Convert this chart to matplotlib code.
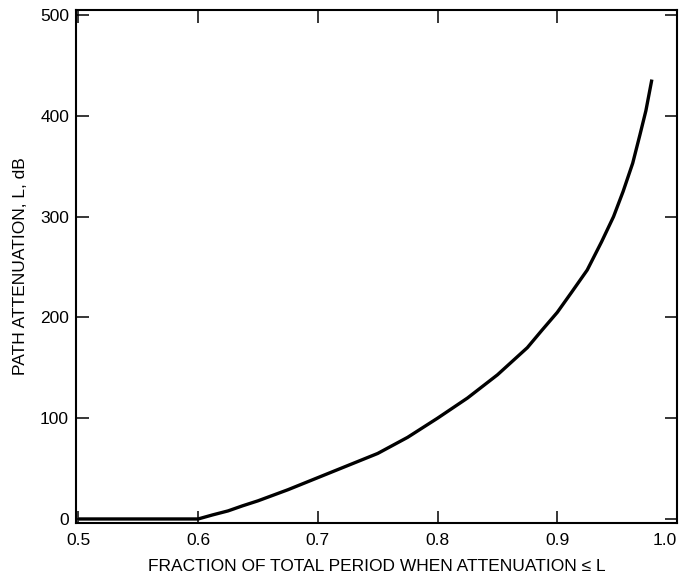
import matplotlib
matplotlib.use("Agg")
import matplotlib.pyplot as plt

# Data
fraction = [0.5, 0.6, 0.612, 0.625, 0.637, 0.65, 0.675, 0.7, 0.725, 0.75,
            0.775, 0.8, 0.825, 0.85, 0.875, 0.887, 0.9, 0.912, 0.925,
            0.937, 0.947, 0.955, 0.963, 0.969, 0.974, 0.979]
attenuation = [0, 0, 4, 8, 13, 18, 29, 41, 53, 65,
               81, 100, 120, 143, 170, 187, 205, 225, 247,
               275, 300, 325, 353, 381, 405, 436]

x_ticks = [0.5, 0.6, 0.7, 0.8, 0.9, 1.0]
x_tick_labels = ["0.5", "0.6", "0.7", "0.8", "0.9", "1.0"]
y_ticks = [0, 100, 200, 300, 400, 500]
y_tick_labels = ["0", "100", "200", "300", "400", "500"]

plt.rcParams['font.family'] = ['Liberation Sans', 'DejaVu Sans']

fig = plt.figure(figsize=(6.81, 5.80), dpi=100)
ax = fig.add_axes([76/681, 1-523/580, (677-76)/681, (523-10)/580])

ax.plot(fraction, attenuation, color='black', lw=2.4,
        solid_capstyle='butt', solid_joinstyle='round')

ax.set_xlim(0.498, 1.0)
ax.set_ylim(-4, 505)
ax.set_xticks(x_ticks)
ax.set_xticklabels(x_tick_labels)
ax.set_yticks(y_ticks)
ax.set_yticklabels(y_tick_labels)

for s in ax.spines.values():
    s.set_linewidth(1.5)
ax.tick_params(direction='in', length=9, width=1.1, top=True, right=True,
               labelsize=12.5, colors='black')
ax.tick_params(axis='x', pad=7)
ax.tick_params(axis='y', pad=5)

# keep the last x tick label inside the figure
labels = ax.get_xticklabels()
labels[-1].set_horizontalalignment('right')

ax.set_xlabel("FRACTION OF TOTAL PERIOD WHEN ATTENUATION \u2264 L", fontsize=12.5, labelpad=8)
ax.set_ylabel("PATH ATTENUATION, L, dB", fontsize=12.5, labelpad=9)

fig.savefig("out.png", dpi=100)
